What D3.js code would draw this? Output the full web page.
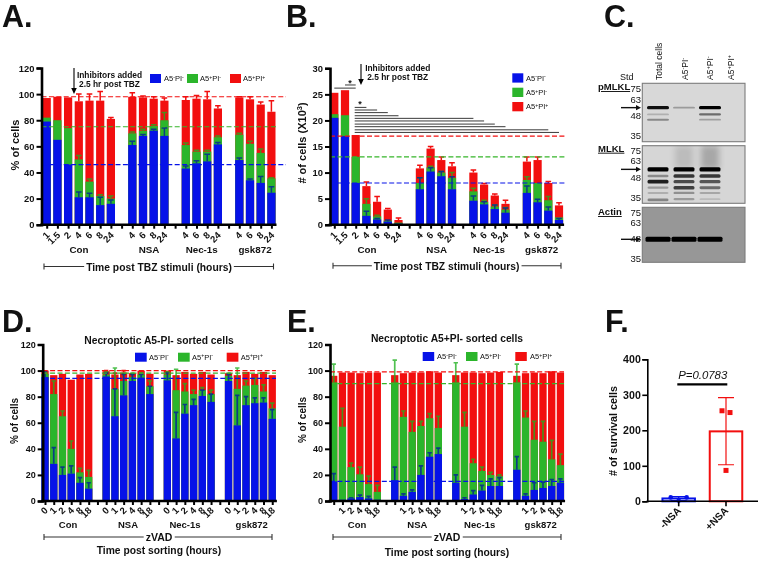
<!DOCTYPE html>
<html><head><meta charset="utf-8">
<script src="https://cdn.jsdelivr.net/npm/d3@7"></script>
<style>
html,body{margin:0;padding:0;background:#fff}
svg{display:block;filter:blur(0.4px)}
text{font-family:"Liberation Sans",Arial,sans-serif;fill:#111}
</style></head><body>
<script>
// ---- Data: stacked bars are read as cumulative tops; "Err" arrays are the tops of the error bars
const aLabelsA=["1","1.5","2","4","6","8","24","","4","6","8","24","","4","6","8","24","","4","6","8","24"];
const groupsTBZ=["Con","NSA","Nec-1s","gsk872"];
const aBlue=[79,65,46,21,21,15,16,null,61,68,72,68,null,43,47,48.5,61.5,null,49.5,34,32,24.5];
const aGreen=[82,80,74,50,33,22,20,null,70,72,75.5,80,null,61,56,56,67,null,69,62,55,35.5];
const aRed=[97,98,97.5,94.5,95,95,81,null,98,97.5,96.5,95,null,95.5,96.5,96,89,null,97.5,96,92,86.5];
const aBlueErr=[null,null,null,25,24,21,19,null,64,69,73,74,null,45,49,54,63,null,51,35,37,29];
const aGreenErr=[null,null,null,53,35,23,22,null,71,73,76.5,86,null,62.5,57,57,68,null,70,64,58,36];
const aRedErr=[null,null,null,100,100,102,82,null,101,98.5,98,97,null,98,99,102,91,null,98,98,94,95];
const aRefs=[98,75,46];

const bBlue=[20.5,17,8,1.7,1,0.6,0.2,null,6.8,10.2,9.3,6.8,null,4.6,3.9,3,2.3,null,6.1,4.3,2.7,0.9];
const bGreen=[21.2,21,13,4,1.6,0.8,0.4,null,8,11,10,9,null,6.4,4.4,3.5,2.9,null,8.6,8,4.7,1.4];
const bRed=[25.3,25.8,17.2,7.4,4.4,2.9,0.9,null,10.8,14.6,12.4,11.2,null,10,7.7,5.6,4,null,12.1,12.4,8,3.7];
const bBlueErr=[null,null,null,2.6,1.2,0.9,null,null,9,10.9,10.2,9.2,null,5.5,4.4,3.8,3.2,null,7.4,4.9,3.4,1.2];
const bGreenErr=[null,null,null,5,1.8,null,null,null,9,11.2,10.2,10,null,7,4.7,3.8,3.3,null,9.2,null,5.4,null];
const bRedErr=[null,null,null,8.2,5.4,3.1,1.3,null,11.4,15,13,11.9,null,10.5,7.9,5.9,4.7,null,13,13,8.3,4.2];
const bRefs=[17,13,8];
// significance brackets in panel B: [level on the y axis, first bar slot, last bar slot]
const bSig=[[26.2,0,2],[26.8,1,2],[22.5,2,3],[22,2,4],[21.5,2,5],[20.9,2,6],[20.4,2,13],[19.9,2,14],[19.3,2,15],[18.8,2,16],[18.2,2,20],[17.7,2,21]];

const labelsSortD=["0","1","2","4","8","18","","0","1","2","4","8","18","","0","1","2","4","8","18","","0","1","2","4","8","18"];
const labelsSortE=["","1","2","4","8","18","","","1","2","4","8","18","","","1","2","4","8","18","","","1","2","4","8","18"];
const dBlue=[95,28.5,20,21,14,9.5,null,95.5,65,81,92,94.5,82,null,92.5,48,67,73.5,80.5,76,null,92,58,73.5,75,75.5,63];
const dGreen=[97.5,82,65,40,22,18.5,null,97,86,92,95,97,88,null,97,85,84,82,85,82,null,96,86,88.5,89,84,71];
const dRed=[100,96.5,97.5,93,97,97.5,null,99.5,97,98.5,98,100,97.5,null,100,96.5,99,97.5,99,97,null,98,96.5,99,97.5,99,96.5];
const dBlueErr=[99.5,41,26,27,18,14,null,98,86,97,97,97,88,null,98,68,74,78,85,82,null,97,81,80,79,79,70];
const dGreenErr=[99,92,69,46,25,23.5,null,99,102,98,98,98,92,null,99,101,90,85,87,85,null,98,102,92,94,89,75];
const dRedErr=[null,null,null,null,null,null,null,100,98,100,null,null,null,null,null,null,null,null,null,null,null,null,null,null,null,null,null];
const dRefs=[100,98,94];

const eBlue=[15,1,2,3,2,1,null,16,4,7,20,34,36,null,14,1.5,5,8,11.5,11.5,null,24,4,8.5,10,11.5,14];
const eGreen=[91,57,26,20.5,13,7,null,91,64.5,53,57.5,63.5,56,null,91,57,29,23,20,19,null,91,64,47,45.5,32,27.5];
const eRed=[96,98.5,98.5,98,98.5,98.5,null,96.5,98,98.5,98.5,99.5,98.5,null,96.5,98.5,98.5,98,98.5,99,null,96,98,98.5,98,99.5,98.5];
const eBlueErr=[21,null,2.5,4.5,3.5,null,null,26,5.5,8.5,27,37,40.5,null,20,2.5,8,12,17,18,null,34,5.5,14,14.5,16.5,17];
const eGreenErr=[105,71,29,26,19,12,null,108,69,61,61,67,65,null,106,68,32,26,22,20,null,105,69,61,61,46.5,36];
const eRefs=[99,90,15];

const fCats=["-NSA","+NSA"];
const fMeans=[8,197];
const fLow=[2,103];
const fHigh=[13,292];
const fPointsMinus=[11,11,2];
const fPointsPlus=[255,250,87];

const legendItems=[["A5","-","PI","-"],["A5","+","PI","-"],["A5","+","PI","+"]];
const kDaTicks=[75,63,48,35];
const lanes=["Total cells",["A5","-","PI","-"],["A5","+","PI","-"],["A5","+","PI","+"]];
// blot bands: [lane index, apparent kDa, intensity]
const pmlklBands=[[0,54.8,.92],[0,49,.18],[0,45,.36],[1,54.8,.28],[2,54.8,1],[2,49,.5],[2,45,.26]];
const mlklBands=[[0,54.8,1],[0,49.2,.35],[0,44.9,.85],[0,40.7,.28],[0,37.4,.18],[0,33.4,.38],
                 [1,54.8,1],[1,49.2,.75],[1,44.9,.65],[1,40.7,.7],[1,37.4,.32],[1,33.8,.28],
                 [2,54.8,1],[2,49.2,.75],[2,44.9,.6],[2,40.7,.5],[2,37.4,.22],[2,33.8,.12]];
const actinBands=[[0,47.7,1],[1,47.7,1],[2,47.7,1]];

// ---- Drawing
const W=760,H=561;
const BLUE="#0612e8",GREEN="#2bb52b",RED="#f20f0f";
const svg=d3.select("body").append("svg").attr("width",W).attr("height",H).attr("viewBox",`0 0 ${W} ${H}`);
const defs=svg.append("defs");
defs.append("filter").attr("id","soft").attr("x","-20%").attr("y","-100%").attr("width","140%").attr("height","300%")
  .append("feGaussianBlur").attr("stdDeviation",.6);
defs.append("filter").attr("id","smear").attr("x","-30%").attr("y","-30%").attr("width","160%").attr("height","160%")
  .append("feGaussianBlur").attr("stdDeviation",3);

function label(g,x,y,txt,o={}){
  return g.append("text").attr("x",x).attr("y",y).text(txt)
   .attr("font-size",o.size||10).attr("font-weight",o.weight||"bold")
   .attr("text-anchor",o.anchor||"middle").attr("font-style",o.style||null);
}
function rich(t,parts,size){
  parts.forEach((p,i)=>{
    const sup=i%2===1;
    t.append("tspan").text(p).attr("font-size",sup?size*.68:size)
      .attr("dy",sup?-size*.32:(i>0?size*.32:0));
  });
  return t;
}
function legend(g,items,size){
  items.forEach(d=>{
    g.append("rect").attr("x",d.x).attr("y",d.y).attr("width",d.w).attr("height",d.h).attr("fill",d.c);
    const t=g.append("text").attr("x",d.tx).attr("y",d.y+d.h*.78).attr("fill","#222");
    rich(t,d.parts,size);
  });
}
function panelLetter(x,y,t){label(svg,x,y,t,{size:30.5,anchor:"start"}).attr("fill","#000");}

function stacked(c){
  const g=svg.append("g");
  const y=d3.scaleLinear().domain([0,c.yMax]).range([c.y0,c.yTop]);
  const x=d3.scaleLinear().domain([0,1]).range([c.x0,c.x0+c.step]);
  const idx=c.blue.map((d,i)=>i).filter(i=>c.blue[i]!==null);
  [[c.red,RED],[c.green,GREEN],[c.blue,BLUE]].forEach(([s,col])=>{
    g.append("g").selectAll("rect").data(idx).join("rect")
      .attr("x",i=>x(i)-c.bw/2).attr("width",c.bw)
      .attr("y",i=>y(s[i])).attr("height",i=>y(0)-y(s[i])).attr("fill",col);
  });
  function err(tops,vals,col,op){
    const e=idx.filter(i=>tops[i]!==null&&tops[i]!==undefined);
    const h=g.append("g").attr("stroke",col).attr("stroke-opacity",op).attr("stroke-width",c.ew||1.5).attr("fill","none");
    h.selectAll("path").data(e).join("path")
      .attr("d",i=>`M${x(i)},${y(vals[i])}V${y(tops[i])}M${x(i)-c.cap},${y(tops[i])}H${x(i)+c.cap}`);
  }
  err(c.redErr,c.red,RED,1);
  err(c.greenErr,c.green,"#1fb01f",.78);
  err(c.blueErr,c.blue,"#07308e",.9);
  const refCols=[RED,"#36b52a",BLUE];
  c.refs.forEach((v,i)=>{
    g.append("line").attr("x1",c.axisX).attr("x2",c.refEnd[i]).attr("y1",y(v)).attr("y2",y(v))
      .attr("stroke",refCols[i]).attr("stroke-width",1.2).attr("stroke-dasharray","5,2.4");
  });
  const yAxis=d3.axisLeft(y).tickValues(d3.range(0,c.yMax+.001,c.yStep)).tickSize(5).tickPadding(2);
  const ya=g.append("g").attr("transform",`translate(${c.axisX},0)`).call(yAxis);
  ya.select(".domain").attr("stroke","#000").attr("stroke-width",2.6);
  ya.selectAll(".tick line").attr("stroke","#000").attr("stroke-width",2);
  ya.selectAll("text").attr("font-size",c.tickSize||9.4).attr("font-weight","bold").attr("fill","#111");
  const xs=d3.scaleLinear().domain([0,c.labels.length-1]).range([x(0),x(c.labels.length-1)]);
  const xAxis=d3.axisBottom(xs).tickValues(d3.range(c.labels.length)).tickSize(4).tickFormat("");
  const xa=g.append("g").attr("transform",`translate(0,${c.y0})`).call(xAxis);
  xa.select(".domain").remove();
  xa.selectAll(".tick line").attr("stroke","#000").attr("stroke-width",2);
  g.append("line").attr("x1",c.axisX-1.3).attr("x2",x(c.labels.length-1)+c.bw/2+1).attr("y1",c.y0).attr("y2",c.y0).attr("stroke","#000").attr("stroke-width",2.4);
  const tg=g.append("g");
  c.labels.forEach((l,i)=>{
    if(!l) return;
    tg.append("text").text(l).attr("font-size",c.xSize||9.5).attr("font-weight","bold")
      .attr("text-anchor","end")
      .attr("transform",`translate(${x(i)+3.5},${c.y0+c.labelDy}) rotate(-45)`);
  });
  c.groupLabels.forEach((l,i)=>label(g,c.groupX[i],c.groupY,l,{size:c.gSize||9.8}));
  const by=c.bracket.y;
  g.append("path").attr("d",`M${c.bracket.a},${by-3}V${by+3}M${c.bracket.a},${by}H${c.bracket.b}M${c.bracket.b},${by-3}V${by+3}`)
    .attr("stroke","#333").attr("stroke-width",1.1).attr("fill","none");
  const bt=label(g,c.bracket.tx,by+c.bracket.dy,c.bracket.text,{size:c.bracket.size});
  const bb=bt.node().getBBox();
  g.insert("rect",()=>bt.node()).attr("x",bb.x-2).attr("y",bb.y).attr("width",bb.width+4).attr("height",bb.height).attr("fill","#fff");
  const yl=g.append("text").attr("transform",`translate(${c.yLabel.x},${c.yLabel.y}) rotate(-90)`).attr("text-anchor","middle").attr("font-weight","bold");
  if(c.yLabel.parts) rich(yl,c.yLabel.parts,c.yLabel.size); else yl.text(c.yLabel.text).attr("font-size",c.yLabel.size);
  return {g,x,y};
}
function legendFrom(xs,tx,ys,w,h){
  const cols=[BLUE,GREEN,RED];
  return legendItems.map((p,i)=>({parts:p,c:cols[i],x:xs[i],tx:tx[i],y:ys[i],w,h}));
}
function inhibitor(g,ax,y1,y2,tx,ty){
  g.append("path").attr("d",`M${ax},${y1}V${y2-5}`).attr("stroke","#000").attr("stroke-width",1.1);
  g.append("path").attr("d",`M${ax-2.8},${y2-6}L${ax},${y2}L${ax+2.8},${y2-6}Z`).attr("fill","#000");
  label(g,tx,ty,"Inhibitors added",{size:8.4});
  label(g,tx,ty+9.3,"2.5 hr post TBZ",{size:8.4});
}

// Panel A
panelLetter(2,27,"A.");
const pA=stacked({blue:aBlue,green:aGreen,red:aRed,blueErr:aBlueErr,greenErr:aGreenErr,redErr:aRedErr,refs:aRefs,
  x0:46.7,step:10.7,bw:8.2,cap:2.8,axisX:41.5,y0:224.7,yTop:68,yMax:120,yStep:20,labels:aLabelsA,labelDy:11,
  refEnd:[286,278,286],
  groupLabels:groupsTBZ,groupX:[79,149,201.7,255],groupY:253,
  bracket:{a:44,b:273.5,y:266.5,tx:159,dy:4,text:"Time post TBZ stimuli (hours)",size:10.3},
  yLabel:{x:19,y:145,text:"% of cells",size:11}});
inhibitor(pA.g,74,68,94,109.5,78);
legend(pA.g,legendFrom([150,187,230],[164,200,243],[74,74,74],11,9),7.5);

// Panel B
panelLetter(286,27,"B.");
const pB=stacked({blue:bBlue,green:bGreen,red:bRed,blueErr:bBlueErr,greenErr:bGreenErr,redErr:bRedErr,refs:bRefs,
  x0:334.3,step:10.7,bw:8.2,cap:2.8,axisX:330,y0:224.7,yTop:68.3,yMax:30,yStep:5,labels:aLabelsA,labelDy:11,
  refEnd:[565,565,565],
  groupLabels:groupsTBZ,groupX:[367,436.7,489,541.7],groupY:253,
  bracket:{a:333,b:561,y:265.7,tx:446.7,dy:4,text:"Time post TBZ stimuli (hours)",size:10.3},
  yLabel:{x:306,y:143,parts:["# of cells (X10","3",")"],size:11}});
pB.g.append("g").selectAll("line").data(bSig).join("line")
  .attr("x1",d=>pB.x(d[1])-(d[1]===2?1:0)).attr("x2",d=>pB.x(d[2])).attr("y1",d=>pB.y(d[0])).attr("y2",d=>pB.y(d[0]))
  .attr("stroke","#222").attr("stroke-width",.9);
label(pB.g,350,86,"*",{size:9});
label(pB.g,360,107,"*",{size:9});
inhibitor(pB.g,361,64,85,397.7,71);
legend(pB.g,legendFrom([512.3,512.3,512.3],[526,526,526],[73.3,87.7,102],11,9.3),7.5);

// Panel D
panelLetter(2,332,"D.");
const pD=stacked({blue:dBlue,green:dGreen,red:dRed,blueErr:dBlueErr,greenErr:dGreenErr,redErr:dRedErr,refs:dRefs,
  x0:45,step:8.74,bw:7.3,cap:2.2,ew:1.7,axisX:42.7,y0:501,yTop:344.5,yMax:120,yStep:20,labels:labelsSortD,labelDy:10,
  refEnd:[276,276,276],tickSize:9,xSize:9.5,
  groupLabels:groupsTBZ,groupX:[68,128,185,251.7],groupY:528,gSize:9.5,
  bracket:{a:44,b:272,y:537,tx:159,dy:4,text:"zVAD",size:10.5},
  yLabel:{x:18,y:421,text:"% of cells",size:10}});
label(pD.g,159,344,"Necroptotic A5-PI- sorted cells",{size:10.3});
label(pD.g,159,554,"Time post sorting (hours)",{size:10.3});
legend(pD.g,legendFrom([135,178,226.7],[149,192,240.7],[352.7,352.7,352.7],11.7,9),7.5);

// Panel E
panelLetter(287,332,"E.");
const pE=stacked({blue:eBlue,green:eGreen,red:eRed,blueErr:eBlueErr,greenErr:eGreenErr,redErr:[],refs:eRefs,
  x0:333.7,step:8.72,bw:7.3,cap:2.2,ew:1.7,axisX:330,y0:501,yTop:344.5,yMax:120,yStep:20,labels:labelsSortE,labelDy:10,
  refEnd:[564,564,564],tickSize:9,xSize:9.5,
  groupLabels:groupsTBZ,groupX:[357,417.3,479.7,540.7],groupY:528,gSize:9.5,
  bracket:{a:333,b:561,y:537,tx:447,dy:4,text:"zVAD",size:10.5},
  yLabel:{x:306,y:420,text:"% of cells",size:10}});
label(pE.g,447,342,"Necroptotic A5+PI- sorted cells",{size:10.3});
label(pE.g,447,556,"Time post sorting (hours)",{size:10.3});
legend(pE.g,legendFrom([422.7,466,515.3],[437,480,530],[352,352,352],11.5,9),7.5);

// Panel F
panelLetter(605,332,"F.");
(function(){
  const g=svg.append("g");
  const y=d3.scaleLinear().domain([0,400]).range([501.3,359.3]);
  const x=d3.scaleBand().domain(fCats).range([662.45,742.25]).paddingInner(0.313).paddingOuter(0);
  const colsF=[BLUE,RED];
  const cx=c=>x(c)+x.bandwidth()/2;
  g.selectAll(".bar").data(fCats).join("rect").attr("class","bar")
    .attr("x",d=>x(d)).attr("width",x.bandwidth()).attr("y",(d,i)=>y(fMeans[i])).attr("height",(d,i)=>y(0)-y(fMeans[i]))
    .attr("fill","#fff").attr("stroke",(d,i)=>colsF[i]).attr("stroke-width",2);
  g.selectAll(".err").data(fCats).join("path").attr("class","err")
    .attr("d",(d,i)=>`M${cx(d)},${y(fLow[i])}V${y(fHigh[i])}M${cx(d)-8},${y(fLow[i])}H${cx(d)+8}M${cx(d)-8},${y(fHigh[i])}H${cx(d)+8}`)
    .attr("stroke",(d,i)=>colsF[i]).attr("stroke-width",1.2).attr("fill","none");
  const off=d3.scaleOrdinal().domain([0,1,2]).range([-8,8,0]);
  g.selectAll(".dot").data(fPointsMinus).join("circle").attr("class","dot")
    .attr("cx",(d,i)=>cx(fCats[0])+off(i)).attr("cy",d=>y(d)).attr("r",2.3).attr("fill",BLUE);
  const off2=d3.scaleOrdinal().domain([0,1,2]).range([-4,4,0]);
  g.selectAll(".sq").data(fPointsPlus).join("rect").attr("class","sq")
    .attr("x",(d,i)=>cx(fCats[1])+off2(i)-2.5).attr("y",d=>y(d)-2.5).attr("width",5).attr("height",5).attr("fill",RED);
  const ya=g.append("g").attr("transform","translate(647.3,0)").call(d3.axisLeft(y).tickValues([0,100,200,300,400]).tickSize(5).tickPadding(1.5));
  ya.select(".domain").attr("stroke","#000").attr("stroke-width",1.6);
  ya.selectAll(".tick line").attr("stroke","#000").attr("stroke-width",1.6);
  ya.selectAll("text").attr("font-size",10.6).attr("font-weight","bold").attr("fill","#111");
  g.append("line").attr("x1",646.5).attr("x2",758).attr("y1",y(0)).attr("y2",y(0)).attr("stroke","#000").attr("stroke-width",1.6);
  fCats.forEach(c=>{
    g.append("line").attr("x1",cx(c)).attr("x2",cx(c)).attr("y1",y(0)).attr("y2",y(0)+5).attr("stroke","#000").attr("stroke-width",1.6);
    g.append("text").text(c).attr("font-size",10.2).attr("font-weight","bold").attr("text-anchor","end")
      .attr("transform",`translate(${cx(c)+3},${y(0)+10}) rotate(-45)`);
  });
  g.append("text").text("# of survival cells").attr("font-size",10.8).attr("font-weight","bold").attr("text-anchor","middle")
    .attr("transform","translate(617,431) rotate(-90)");
  label(g,702.7,378.7,"P=0.0783",{size:11.4,weight:"normal",style:"italic"});
  g.append("line").attr("x1",677.3).attr("x2",727.3).attr("y1",384.3).attr("y2",384.3).attr("stroke","#000").attr("stroke-width",2.2);
})();

// Panel C: blots
panelLetter(604,27,"C.");
(function(){
  const g=svg.append("g");
  const laneX=d3.scaleLinear().domain([0,3]).range([658,736]);
  const blotLeft=642.3,blotRight=745;
  function blot(b){
    const kd=d3.scaleLog().domain([75,35]).range([b.y75,b.y35]);
    g.append("rect").attr("x",blotLeft).attr("y",b.top).attr("width",blotRight-blotLeft).attr("height",b.bottom-b.top)
      .attr("fill",b.bg).attr("stroke","#7c7c7c").attr("stroke-width",1.1);
    const clipId="clip"+b.name;
    defs.append("clipPath").attr("id",clipId).append("rect").attr("x",blotLeft).attr("y",b.top).attr("width",blotRight-blotLeft).attr("height",b.bottom-b.top);
    const inner=g.append("g").attr("clip-path",`url(#${clipId})`);
    if(b.smear) b.smear.forEach(s=>{
      inner.append("rect").attr("x",laneX(s[0])-9).attr("width",18).attr("y",b.top).attr("height",kd(s[1])-b.top)
       .attr("fill","#000").attr("opacity",s[2]).attr("filter","url(#smear)");
    });
    inner.selectAll("rect.band").data(b.bands).join("rect").attr("class","band")
      .attr("x",d=>laneX(d[0])-b.laneW/2).attr("width",b.laneW)
      .attr("y",d=>kd(d[1])-(.7+d[2]*b.thick)).attr("height",d=>2*(.7+d[2]*b.thick))
      .attr("rx",1.5).attr("fill","#000").attr("opacity",d=>d[2]).attr("filter","url(#soft)");
    kDaTicks.forEach(k=>label(g,641,kd(k)+3.5,k,{size:9.5,weight:"normal",anchor:"end"}).attr("fill","#333"));
    g.append("text").text(b.name).attr("x",598).attr("y",b.nameY).attr("font-size",9.5).attr("font-weight","bold").attr("text-decoration","underline");
    const ay=kd(b.arrowKd);
    g.append("path").attr("d",`M621,${ay}H637`).attr("stroke","#111").attr("stroke-width",1.4);
    g.append("path").attr("d",`M636,${ay-2.6}L641,${ay}L636,${ay+2.6}Z`).attr("fill","#111");
  }
  blot({name:"pMLKL",top:83.3,bottom:141.7,bg:"#d8d8d8",y75:88.5,y35:135,bands:pmlklBands,laneW:22,thick:.9,nameY:90,arrowKd:54.8});
  blot({name:"MLKL",top:145.7,bottom:203.3,bg:"#d6d6d6",y75:150,y35:197,bands:mlklBands,laneW:21,thick:1.5,nameY:151.7,arrowKd:54.8,smear:[[1,55,.12],[2,55,.22]]});
  blot({name:"Actin",top:207.3,bottom:262.3,bg:"#979797",y75:212,y35:258,bands:actinBands,laneW:25,thick:1.8,nameY:215,arrowKd:47.7});
  label(g,626.7,80,"Std",{size:9,weight:"normal"}).attr("fill","#222");
  const labelX=[662,688,713,734];
  lanes.forEach((l,i)=>{
    const t=g.append("text").attr("transform",`translate(${labelX[i]},80) rotate(-90)`).attr("fill","#222");
    if(typeof l==="string") t.text(l).attr("font-size",8.5); else rich(t,l,8.5);
  });
})();
</script></body></html>
